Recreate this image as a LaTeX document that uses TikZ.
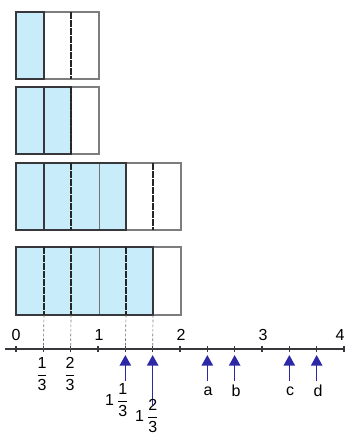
\documentclass[tikz,border=0pt]{standalone}
\usepackage{amsmath}
\usepackage{fontspec}
\setmainfont{Liberation Sans}
\usetikzlibrary{arrows.meta,calc}

\definecolor{paleblue}{RGB}{200,236,250}
\definecolor{arrowblue}{RGB}{45,40,165}
\definecolor{edge}{RGB}{55,55,60}

\begin{document}
\begin{tikzpicture}[
      x=0.75pt, y=-0.75pt,%
      thin,%
      box/.style={draw=edge!65, line width=0.8pt},%
      part/.style={draw=edge, line width=1.1pt},%
      cut/.style={draw=edge, line width=1pt},%
      thin cut/.style={draw=edge!70, line width=0.7pt},%
      third/.style={draw=black!85, line width=1.7pt, dash pattern=on 5pt off 1pt},%
      guide/.style={draw=black!55, line width=0.5pt, dash pattern=on 2pt off 1.5pt},%
      pointer/.style={draw=arrowblue, line width=1.2pt, -{Triangle[width=8.5pt,length=8pt]}},%
      lbl/.style={font=\fontsize{12}{14}\selectfont, inner sep=1pt}%
    ]
    \useasboundingbox (0,0) rectangle (345,436);

    %% One third
    \fill[paleblue] (16,12) rectangle (44,79);
    \draw[box] (16,12) rectangle (99,79);
    \draw[part] (16,12) rectangle (44,79);
    \draw[third] (71,12) -- (71,79);

    %% Two thirds
    \fill[paleblue] (16,87) rectangle (71,154);
    \draw[box] (16,87) rectangle (99,154);
    \draw[cut] (44,87) -- (44,154);
    \draw[part] (16,87) rectangle (71,154);
    \draw[third] (71,87) -- (71,154);

    %% One and one third
    \fill[paleblue] (16,163) rectangle (126,230);
    \draw[box] (16,163) rectangle (181,230);
    \draw[cut] (44,163) -- (44,230);
    \draw[thin cut] (99,163) -- (99,230);
    \draw[part] (16,163) rectangle (126,230);
    \draw[third] (71,163) -- (71,230);
    \draw[third] (153,163) -- (153,230);

    %% One and two thirds
    \fill[paleblue] (16,247) rectangle (153,315);
    \draw[box] (16,247) rectangle (181,315);
    \draw[thin cut] (99,247) -- (99,315);
    \draw[part] (16,247) rectangle (153,315);
    \draw[third] (44,247) -- (44,315);
    \draw[third] (71,247) -- (71,315);
    \draw[third] (126,247) -- (126,315);

    %% Number line
    \draw[edge, line width=1pt] (5,349) -- (345,349);
    \foreach \k in {0,...,12}{
      \coordinate (t\k) at ({16+82*\k/3},349);
      \draw[edge, line width=1pt] (t\k) ++(0,-3) -- ++(0,6);
    }
    \node[lbl] (n0) at (16,335) {0};
    \node[lbl] (n1) at (99,335) {1};
    \node[lbl] (n2) at (181,335) {2};
    \node[lbl] (n3) at (263,335) {3};
    \node[lbl] (n4) at (340,335) {4};

    %% Guides down from the last bar
    \foreach \k/\xx in {1/44,2/71,4/126,5/153}{
      \coordinate (g\k) at (\xx,315);
      \draw[guide] (g\k) -- (t\k);
    }

    \node[lbl] (f1) at (42,374) {$\dfrac{\text{1}}{\text{3}}$};
    \node[lbl] (f2) at (70,374) {$\dfrac{\text{2}}{\text{3}}$};

    %% Pointers
    \foreach \k/\len in {4/32,5/56,7/32,8/32,10/32,11/32}{
      \coordinate (h\k) at ($(t\k)+(0,6)$);
      \coordinate (s\k) at ($(t\k)+(0,\len)$);
      \draw[pointer] (s\k) -- (h\k);
    }

    \node[lbl] (m4) at (117,400) {1\,$\dfrac{\text{1}}{\text{3}}$};
    \node[lbl] (m5) at (147,416) {1\,$\dfrac{\text{2}}{\text{3}}$};
    \node[lbl] (la) at (208,391) {a};
    \node[lbl] (lb) at (236,391) {b};
    \node[lbl] (lc) at (290,391) {c};
    \node[lbl] (ld) at (318,391) {d};
  \end{tikzpicture}
\end{document}
